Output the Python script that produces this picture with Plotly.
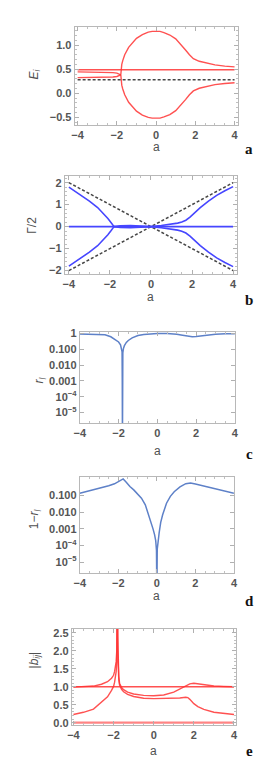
import plotly.graph_objects as go

W, H = 273, 763

# ---------------- panel a : E_i ----------------
a_line = [-4.0, 4.0]
E_flat = [0.49, 0.49]
E_dash = [0.28, 0.28]
a_left = [-4.0, -3.5, -3.0, -2.5, -2.2, -2.0, -1.9, -1.8]
E_left_up = [0.445, 0.445, 0.443, 0.44, 0.43, 0.42, 0.405, 0.385]
E_left_dn = [0.325, 0.325, 0.327, 0.33, 0.34, 0.35, 0.365, 0.385]
a_loop = [-1.8, -1.78, -1.75, -1.7, -1.6, -1.4, -1.2, -1.0, -0.7, -0.4, -0.2, 0.0,
          0.2, 0.4, 0.7, 1.0, 1.3, 1.5, 1.7, 1.9, 2.2, 2.6, 3.0, 3.5, 4.0]
E_loop_up = [0.385, 0.52, 0.60, 0.68, 0.80, 0.955, 1.06, 1.14, 1.22, 1.27, 1.285, 1.29,
             1.285, 1.26, 1.21, 1.13, 1.00, 0.90, 0.80, 0.72, 0.665, 0.62, 0.59, 0.565, 0.55]
E_loop_dn = [0.385, 0.25, 0.17, 0.09, -0.03, -0.185, -0.29, -0.37, -0.45, -0.50, -0.515, -0.52,
             -0.515, -0.49, -0.44, -0.36, -0.23, -0.13, -0.03, 0.05, 0.105, 0.15, 0.18, 0.205, 0.22]

# ---------------- panel b : Gamma/2 ----------------
G_ref_up = [2.0, -2.0]
G_ref_dn = [-2.0, 2.0]
G_flat = [0.0, 0.0]
a_bl = [-4.0, -3.5, -3.0, -2.6, -2.3, -2.1, -1.95, -1.85, -1.8]
G_bl_up = [1.80, 1.49, 1.16, 0.87, 0.58, 0.37, 0.19, 0.08, 0.0]
G_bl_dn = [-1.80, -1.49, -1.16, -0.87, -0.58, -0.37, -0.19, -0.08, 0.0]
a_br = [-1.8, -1.5, -1.0, -0.5, 0.0, 0.5, 1.0, 1.3, 1.5, 1.7, 1.9, 2.1, 2.4, 2.8, 3.2, 3.6, 4.0]
G_br_up = [0.0, -0.04, -0.05, -0.04, 0.0, 0.05, 0.11, 0.16, 0.21, 0.29, 0.43, 0.61, 0.86, 1.16, 1.42, 1.63, 1.82]
G_br_dn = [0.0, 0.04, 0.05, 0.04, 0.0, -0.05, -0.11, -0.16, -0.21, -0.29, -0.43, -0.61, -0.86, -1.16, -1.42, -1.63, -1.82]

# ---------------- panel c : r_l ----------------
a_c = [-4.0, -3.5, -3.0, -2.7, -2.4, -2.2, -2.0, -1.9, -1.85, -1.82, -1.81, -1.8, -1.79, -1.78,
       -1.75, -1.7, -1.6, -1.5, -1.3, -1.0, -0.7, -0.4, 0.0, 0.5, 0.8, 1.0, 1.3, 1.6, 1.8, 2.0,
       2.3, 2.6, 3.0, 3.5, 4.0]
r_c = [0.93, 0.92, 0.88, 0.82, 0.62, 0.45, 0.29, 0.19, 0.12, 0.07, 1e-3, 1e-7, 1e-3, 0.06,
       0.11, 0.17, 0.27, 0.36, 0.53, 0.74, 0.87, 0.95, 0.99, 0.98, 0.95, 0.90, 0.78, 0.66, 0.63, 0.65,
       0.72, 0.82, 0.90, 0.95, 0.97]

# ---------------- panel d : 1 - r_l ----------------
a_d = [-4.0, -3.5, -3.2, -2.8, -2.5, -2.2, -2.0, -1.85, -1.75, -1.6, -1.4, -1.2, -1.0, -0.8,
       -0.6, -0.45, -0.3, -0.2, -0.12, -0.06, -0.02, 0.0, 0.02, 0.06, 0.12, 0.2, 0.3, 0.5, 0.7,
       0.9, 1.2, 1.5, 1.75, 2.0, 2.3, 2.7, 3.1, 3.5, 4.0]
one_minus_r = [0.138, 0.19, 0.23, 0.32, 0.39, 0.51, 0.66, 0.85, 1.0, 0.66, 0.35, 0.22, 0.13, 0.07,
               0.028, 0.009, 0.0025, 1e-3, 4.5e-4, 2e-4, 5e-5, 1e-7, 6e-5, 2.5e-4, 6e-4, 2.5e-3, 7e-3, 0.035, 0.09,
               0.17, 0.33, 0.52, 0.58, 0.50, 0.41, 0.31, 0.24, 0.19, 0.14]

# ---------------- panel e : |b_ij| ----------------
b_one = [1.0, 1.0]
b_zero = [0.0, 0.0]
a_e = [-4.0, -3.5, -3.0, -2.6, -2.3, -2.1, -2.0, -1.95, -1.9, -1.87, -1.84, -1.82, -1.81,
       -1.79, -1.77, -1.74, -1.7, -1.6, -1.5, -1.3, -1.0, -0.5, 0.0, 0.5, 1.0, 1.3, 1.6, 1.7,
       1.8, 2.0, 2.2, 2.5, 3.0, 3.5, 4.0]
b_A = [0.99, 1.0, 1.02, 1.07, 1.14, 1.24, 1.32, 1.42, 1.55, 1.7, 2.0, 2.5, 4.0,
       2.4, 1.7, 1.3, 1.1, 0.98, 0.92, 0.85, 0.80, 0.76, 0.75, 0.77, 0.85, 0.93, 1.02, 1.05,
       1.08, 1.10, 1.08, 1.05, 1.02, 1.01, 1.0]
b_B = [0.23, 0.29, 0.38, 0.56, 0.72, 0.9, 1.01, 1.12, 1.27, 1.42, 1.7, 2.2, 4.0,
       2.0, 1.5, 1.2, 1.05, 0.93, 0.86, 0.79, 0.73, 0.68, 0.67, 0.67, 0.68, 0.69, 0.71, 0.70,
       0.65, 0.53, 0.45, 0.37, 0.29, 0.25, 0.23]

RED = "rgba(255,50,50,0.85)"
BLUE = "rgb(70,70,255)"
MBLUE = "rgb(94,129,200)"
DASH = "rgb(70,70,70)"
FINE_DASH = "3px,2px"

fig = go.Figure()


def add(x, y, n, color, width=1.4, dash=None):
    fig.add_trace(go.Scatter(x=x, y=y, mode="lines", xaxis="x" + ("" if n == 1 else str(n)),
                             yaxis="y" + ("" if n == 1 else str(n)),
                             line=dict(color=color, width=width, dash=dash),
                             showlegend=False, hoverinfo="skip"))


# panel a
add(a_line, E_flat, 1, RED)
add(a_left, E_left_up, 1, RED)
add(a_left, E_left_dn, 1, RED)
add(a_loop, E_loop_up, 1, RED)
add(a_loop, E_loop_dn, 1, RED)
add(a_line, E_dash, 1, DASH, 1.5, FINE_DASH)
# panel b
add(a_line, G_ref_up, 2, DASH, 1.5, FINE_DASH)
add(a_line, G_ref_dn, 2, DASH, 1.5, FINE_DASH)
add(a_line, G_flat, 2, BLUE, 1.6)
add(a_bl, G_bl_up, 2, BLUE, 1.6)
add(a_bl, G_bl_dn, 2, BLUE, 1.6)
add(a_br, G_br_up, 2, BLUE, 1.6)
add(a_br, G_br_dn, 2, BLUE, 1.6)
# panel c
add(a_c, r_c, 3, MBLUE, 1.5)
# panel d
add(a_d, one_minus_r, 4, MBLUE, 1.5)
# panel e
add(a_line, b_one, 5, RED, 1.6)
add(a_line, b_zero, 5, "rgba(255,80,80,0.7)", 2.2)
add(a_e, b_A, 5, RED, 1.4)
add(a_e, b_B, 5, RED, 1.4)

# frame pixel boxes: (left, right, top, bottom)
boxes = {
    1: (63, 232, 14, 113),
    2: (52.7, 231.7, 165, 264),
    3: (68.3, 229.3, 322.7, 415),
    4: (68.3, 228.3, 470, 566.7),
    5: (60, 230, 623.3, 720),
}
xranges = {1: [-4.15, 4.15], 2: [-4.2, 4.2], 3: [-4.0, 4.0], 4: [-4.0, 4.0], 5: [-4.08, 4.08]}
yranges = {1: [-0.65, 1.38], 2: [-2.15, 2.3], 3: [-5.67, 0.1], 4: [-5.65, 0.09], 5: [-0.05, 2.61]}

TICKFONT = dict(family="Liberation Sans", size=11, color="#555555", weight="bold")
common = dict(showline=True, linecolor="#b8b8b8", linewidth=1, mirror="ticks", ticks="inside",
              ticklen=4, tickcolor="#b0b0b0", showgrid=False, zeroline=False, tickfont=TICKFONT)

lay = {}
for n, (l, r, t, b) in boxes.items():
    sx = "" if n == 1 else str(n)
    xa = dict(common, domain=[l / W, r / W], range=xranges[n], anchor="y" + sx,
              tickvals=[-4, -2, 0, 2, 4], ticktext=["−4", "−2", "0", "2", "4"],
              minor=dict(ticks="inside", ticklen=2, tickcolor="#c0c0c0", dtick=0.5, tick0=0))
    ya = dict(common, domain=[1 - b / H, 1 - t / H], range=yranges[n], anchor="x" + sx)
    if n == 1:
        ya.update(tickvals=[-0.5, 0.0, 0.5, 1.0], ticktext=["−0.5", "0.0", "0.5", "1.0"],
                  minor=dict(ticks="inside", ticklen=2, tickcolor="#c0c0c0", dtick=0.1, tick0=0))
    elif n == 2:
        ya.update(tickvals=[-2, -1, 0, 1, 2], ticktext=["−2", "−1", "0", "1", "2"],
                  minor=dict(ticks="inside", ticklen=2, tickcolor="#c0c0c0", dtick=0.2, tick0=0))
    elif n == 3:
        ya.update(type="log", tickvals=[1, 0.1, 0.01, 0.001, 1e-4, 1e-5],
                  ticktext=["1", "0.100", "0.010", "0.001", "10<sup>−4</sup>", "10<sup>−5</sup>"])
    elif n == 4:
        ya.update(type="log", tickvals=[0.1, 0.01, 0.001, 1e-4, 1e-5],
                  ticktext=["0.100", "0.010", "0.001", "10<sup>−4</sup>", "10<sup>−5</sup>"])
    else:
        ya.update(tickvals=[0, 0.5, 1.0, 1.5, 2.0, 2.5],
                  ticktext=["0.0", "0.5", "1.0", "1.5", "2.0", "2.5"],
                  minor=dict(ticks="inside", ticklen=2, tickcolor="#c0c0c0", dtick=0.1, tick0=0))
    lay["xaxis" + sx] = xa
    lay["yaxis" + sx] = ya

annotations = []


def ann(text, x, y, size=12, angle=0, family="Liberation Sans", color="#505050"):
    annotations.append(dict(text=text, x=x / W, y=1 - y / H, xref="paper", yref="paper",
                            showarrow=False, textangle=angle, xanchor="center", yanchor="middle",
                            font=dict(family=family, size=size, color=color)))


ytitles = [("<i>E</i><sub><i>i</i></sub>", 22, 62), ("Γ/2", 19, 215),
           ("<i>r</i><sub><i>l</i></sub>", 27, 372), ("1−<i>r</i><sub><i>l</i></sub>", 22, 512),
           ("|<i>b</i><sub><i>ij</i></sub>|", 22, 655)]
for txt, x, y in ytitles:
    ann(txt, x, y, 12, -90)
for (l, r, t, b), y in zip(boxes.values(), [136, 287, 443, 590, 747]):
    ann("a", (l + r) / 2, y, 12)
for letter, y in zip("abcde", [138, 290, 446, 595, 747]):
    ann("<b>" + letter + "</b>", 244, y, 15, 0, "Liberation Serif", "#111")

fig.update_layout(width=W, height=H, margin=dict(l=0, r=0, t=0, b=0),
                  paper_bgcolor="white", plot_bgcolor="white",
                  annotations=annotations, **lay)

fig.write_html("out.html")
